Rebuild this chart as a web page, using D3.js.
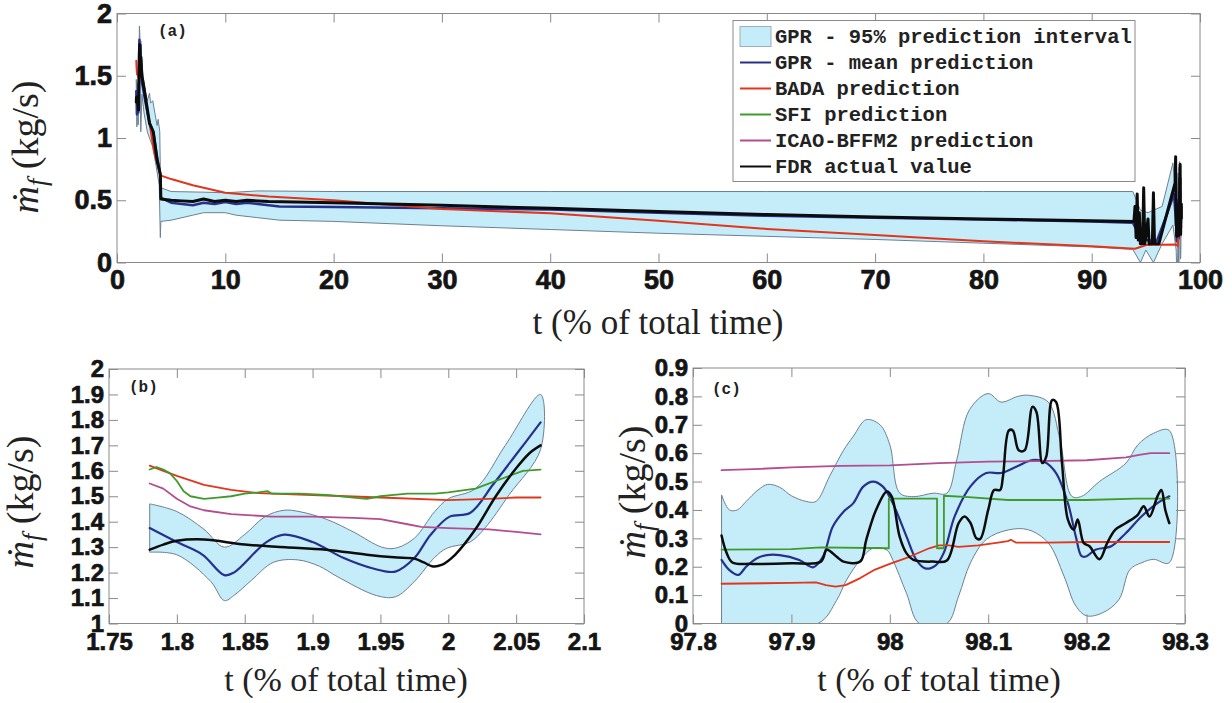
<!DOCTYPE html>
<html><head><meta charset="utf-8">
<script src="https://cdn.jsdelivr.net/npm/d3@7"></script>
<style>body{margin:0;background:#fff}svg{display:block}</style>
</head><body><svg id="chart" width="1232" height="703"></svg>
<script>
// ---------- tick values ----------
const aXTicks = [0,10,20,30,40,50,60,70,80,90,100];
const aYTicks = [0,0.5,1,1.5,2];
const bXTicks = [1.75,1.8,1.85,1.9,1.95,2,2.05,2.1];
const bYTicks = [1,1.1,1.2,1.3,1.4,1.5,1.6,1.7,1.8,1.9,2];
const cXTicks = [97.8,97.9,98,98.1,98.2,98.3];
const cYTicks = [0,0.1,0.2,0.3,0.4,0.5,0.6,0.7,0.8,0.9];
const legendLabels = ["GPR - 95% prediction interval","GPR - mean prediction","BADA prediction","SFI prediction","ICAO-BFFM2 prediction","FDR actual value"];

// ---------- panel (b): t in [1.78, 2.07] ----------
const bBandUpper = [[1.78,1.47],[1.80,1.44],[1.82,1.37],[1.835,1.30],[1.85,1.35],[1.865,1.42],[1.879,1.445],[1.89,1.44],[1.91,1.41],[1.93,1.36],[1.951,1.30],[1.961,1.296],[1.975,1.335],[1.99,1.44],[2.0,1.49],[2.02,1.53],[2.042,1.70],[2.068,1.90]];
const bBandLower = [[1.78,1.28],[1.80,1.27],[1.825,1.165],[1.835,1.09],[1.842,1.11],[1.855,1.17],[1.871,1.24],[1.889,1.25],[1.905,1.225],[1.918,1.185],[1.947,1.11],[1.961,1.105],[1.975,1.165],[1.99,1.26],[1.999,1.296],[2.016,1.32],[2.027,1.375],[2.045,1.507],[2.068,1.684]];
const bMean = [[1.78,1.375],[1.80,1.32],[1.819,1.27],[1.835,1.19],[1.842,1.20],[1.866,1.32],[1.879,1.349],[1.9,1.32],[1.923,1.257],[1.944,1.217],[1.961,1.204],[1.975,1.257],[1.987,1.349],[2.001,1.42],[2.016,1.434],[2.033,1.546],[2.05,1.664],[2.068,1.79]];
const bBADA = [[1.78,1.62],[1.79,1.60],[1.80,1.58],[1.82,1.545],[1.84,1.525],[1.86,1.512],[1.9,1.505],[1.95,1.495],[2.0,1.485],[2.03,1.49],[2.05,1.495],[2.068,1.495]];
const bSFI = [[1.78,1.605],[1.785,1.615],[1.79,1.605],[1.795,1.59],[1.80,1.56],[1.805,1.52],[1.81,1.50],[1.82,1.49],[1.83,1.495],[1.84,1.50],[1.85,1.51],[1.86,1.515],[1.867,1.52],[1.87,1.51],[1.89,1.51],[1.91,1.505],[1.93,1.495],[1.94,1.49],[1.95,1.50],[1.96,1.505],[1.97,1.51],[1.99,1.51],[2.0,1.515],[2.02,1.53],[2.04,1.57],[2.055,1.60],[2.068,1.605]];
const bICAO = [[1.78,1.55],[1.79,1.53],[1.80,1.49],[1.81,1.46],[1.82,1.445],[1.84,1.43],[1.87,1.42],[1.9,1.42],[1.93,1.415],[1.95,1.41],[1.97,1.39],[1.98,1.38],[2.0,1.375],[2.03,1.37],[2.05,1.36],[2.068,1.35]];
const bFDR = [[1.78,1.29],[1.79,1.31],[1.80,1.325],[1.82,1.33],[1.85,1.31],[1.88,1.30],[1.91,1.29],[1.94,1.27],[1.96,1.26],[1.975,1.255],[1.982,1.24],[1.988,1.225],[1.995,1.23],[2.005,1.27],[2.02,1.37],[2.035,1.50],[2.05,1.61],[2.06,1.67],[2.068,1.70]];

// ---------- panel (a) middle part: t in (2.07, 97.83) ----------
const aBandUpper = [[2.1,1.85],[2.15,1.70],[2.2,1.78],[2.3,1.6],[2.45,1.45],[2.6,1.38],[2.8,1.30],[3.0,1.36],[3.1,1.28],[3.3,1.30],[3.5,1.20],[3.7,1.10],[3.8,1.15],[3.95,1.05],[4.0,0.75],[4.05,0.60],[5,0.57],[8,0.565],[10,0.56],[13,0.575],[20,0.57],[40,0.57],[60,0.57],[80,0.57],[93.8,0.57],[94.5,0.42],[95.2,0.40],[95.7,0.42],[96.5,0.45],[97.5,0.80],[97.8,0.50]];
const aBandLower = [[2.1,1.45],[2.2,1.05],[2.3,1.35],[2.5,1.2],[2.8,1.05],[3.0,1.0],[3.3,0.93],[3.6,0.78],[3.9,0.62],[4.0,0.20],[4.05,0.33],[5,0.34],[6,0.36],[7,0.38],[8,0.40],[10,0.40],[11,0.38],[13,0.36],[15,0.34],[20,0.33],[30,0.295],[40,0.265],[50,0.235],[60,0.21],[70,0.185],[80,0.155],[90,0.125],[93.8,0.105],[94.5,0.0],[95.0,0.10],[95.7,0.0],[96.5,0.15],[97.5,0.3],[97.8,0.1]];
const aMean = [[2.1,1.6],[2.15,1.75],[2.3,1.45],[2.6,1.3],[3.0,1.12],[3.35,1.05],[3.7,0.85],[4.0,0.70],[4.05,0.52],[5,0.48],[6,0.47],[7,0.46],[8,0.48],[9,0.47],[10,0.485],[11,0.47],[12,0.48],[13,0.47],[15,0.45],[20,0.445],[30,0.435],[40,0.425],[50,0.40],[60,0.375],[70,0.36],[80,0.345],[90,0.33],[93.8,0.32],[94.5,0.2],[95,0.18],[96,0.17],[97,0.4],[97.6,0.55],[97.8,0.3]];
const aBADA = [[2.4,1.47],[3.0,1.12],[3.4,0.90],[4.0,0.70],[5,0.67],[7,0.62],[10,0.56],[14,0.53],[20,0.50],[30,0.43],[40,0.395],[50,0.335],[60,0.27],[70,0.22],[80,0.17],[90,0.13],[94,0.11],[94.7,0.13],[95,0.14],[97.8,0.145]];
const aFDR = [[2.1,1.75],[2.15,1.55],[2.2,1.65],[2.3,1.50],[2.5,1.40],[3.0,1.12],[3.35,1.05],[3.7,0.82],[4.0,0.71],[4.05,0.51],[5,0.50],[6,0.495],[7,0.49],[8,0.51],[9,0.49],[10,0.50],[11,0.49],[12,0.50],[14,0.49],[20,0.48],[30,0.46],[40,0.435],[50,0.41],[60,0.385],[70,0.365],[80,0.35],[90,0.335],[93.9,0.33],[94.0,0.45],[94.1,0.2],[94.2,0.55],[94.3,0.18],[94.4,0.4],[94.5,0.15],[94.7,0.15],[94.8,0.6],[94.9,0.15],[95.2,0.35],[95.3,0.15],[95.6,0.15],[95.7,0.56],[95.8,0.15],[96.2,0.15],[97.7,0.64],[97.75,0.85],[97.8,0.3]];

// ---------- panel (c): t in [97.83, 98.28] ----------
const cBandUpper = [[97.829,0.453],[97.837,0.40],[97.845,0.40],[97.854,0.43],[97.866,0.47],[97.876,0.49],[97.888,0.48],[97.9,0.45],[97.915,0.43],[97.925,0.43],[97.939,0.52],[97.953,0.61],[97.963,0.66],[97.976,0.718],[97.99,0.70],[98.0,0.63],[98.01,0.46],[98.024,0.447],[98.044,0.459],[98.058,0.459],[98.068,0.576],[98.081,0.753],[98.1,0.81],[98.113,0.78],[98.13,0.80],[98.141,0.804],[98.161,0.78],[98.173,0.646],[98.185,0.448],[98.195,0.448],[98.213,0.50],[98.24,0.565],[98.252,0.629],[98.268,0.67],[98.284,0.68]];
const cBandLower = [[97.829,0],[97.927,0],[97.946,0.082],[97.956,0.153],[97.97,0.224],[97.983,0.265],[97.997,0.259],[98.003,0.224],[98.017,0.106],[98.03,0],[98.058,0],[98.07,0.097],[98.082,0.214],[98.098,0.296],[98.121,0.33],[98.141,0.33],[98.161,0.284],[98.177,0.167],[98.189,0.062],[98.2,0.027],[98.217,0.039],[98.233,0.085],[98.244,0.19],[98.256,0.214],[98.268,0.226],[98.284,0.214]];
const cMean = [[97.829,0.224],[97.837,0.188],[97.846,0.171],[97.854,0.2],[97.865,0.23],[97.875,0.241],[97.888,0.241],[97.908,0.224],[97.922,0.198],[97.932,0.235],[97.942,0.341],[97.953,0.394],[97.963,0.424],[97.973,0.482],[97.983,0.5],[97.993,0.482],[98.003,0.424],[98.017,0.306],[98.027,0.224],[98.036,0.194],[98.047,0.206],[98.055,0.25],[98.066,0.378],[98.082,0.483],[98.098,0.53],[98.113,0.53],[98.129,0.553],[98.145,0.576],[98.157,0.57],[98.169,0.53],[98.181,0.424],[98.189,0.307],[98.195,0.237],[98.2,0.237],[98.209,0.26],[98.225,0.272],[98.24,0.319],[98.256,0.378],[98.272,0.424],[98.284,0.448]];
const cBADA = [[97.829,0.14],[97.9,0.143],[97.925,0.145],[97.935,0.135],[97.945,0.13],[97.955,0.135],[97.97,0.16],[97.985,0.19],[98.0,0.21],[98.02,0.235],[98.04,0.265],[98.05,0.275],[98.06,0.275],[98.07,0.27],[98.09,0.275],[98.11,0.285],[98.12,0.29],[98.123,0.295],[98.128,0.285],[98.16,0.285],[98.2,0.287],[98.284,0.287]];
const cSFI = [[97.829,0.26],[97.9,0.262],[97.93,0.268],[97.999,0.265],[97.999,0.44],[98.048,0.44],[98.048,0.265],[98.055,0.265],[98.055,0.45],[98.08,0.445],[98.12,0.435],[98.2,0.435],[98.25,0.44],[98.284,0.44]];
const cICAO = [[97.829,0.54],[97.87,0.545],[97.9,0.55],[97.95,0.555],[98.0,0.557],[98.05,0.565],[98.1,0.57],[98.15,0.572],[98.2,0.575],[98.24,0.585],[98.255,0.595],[98.265,0.6],[98.284,0.6]];
const cFDR = [[97.829,0.31],[97.834,0.25],[97.84,0.215],[97.86,0.21],[97.9,0.212],[97.93,0.218],[97.936,0.26],[97.946,0.235],[97.953,0.218],[97.97,0.218],[97.976,0.294],[97.986,0.40],[97.997,0.465],[98.002,0.447],[98.01,0.306],[98.017,0.247],[98.024,0.224],[98.044,0.218],[98.058,0.222],[98.07,0.354],[98.076,0.377],[98.082,0.354],[98.088,0.30],[98.092,0.298],[98.1,0.40],[98.106,0.47],[98.112,0.47],[98.115,0.518],[98.121,0.68],[98.125,0.68],[98.131,0.61],[98.137,0.61],[98.145,0.763],[98.149,0.745],[98.155,0.565],[98.159,0.588],[98.165,0.787],[98.169,0.78],[98.175,0.565],[98.181,0.366],[98.187,0.33],[98.191,0.366],[98.197,0.284],[98.203,0.272],[98.213,0.226],[98.221,0.284],[98.229,0.33],[98.24,0.354],[98.252,0.383],[98.258,0.413],[98.264,0.377],[98.272,0.448],[98.276,0.47],[98.28,0.40],[98.284,0.354]];

// ---------- styles ----------
const COL = {fill:"#c4ecf9", edge:"#6d7f92", mean:"#27308c", bada:"#e2361c", sfi:"#3f9a2c", icao:"#b44d8e", fdr:"#0c0c0c", axis:"#8a8a8a"};
const TICKFONT = "'Liberation Sans', Arial, Helvetica, sans-serif";
const SERIF = "'Liberation Serif', 'Times New Roman', 'DejaVu Serif', serif";
const MONO = "'Liberation Mono', 'Courier New', monospace";

const svg = d3.select("#chart");
svg.append("rect").attr("width",1232).attr("height",703).attr("fill","#fff");

function panel(o){
  const x = d3.scaleLinear().domain(o.xd).range([o.l,o.r]);
  const y = d3.scaleLinear().domain(o.yd).range([o.b,o.t]);
  const g = svg.append("g");
  const cid = "clip"+o.id;
  g.append("clipPath").attr("id",cid).append("rect")
    .attr("x",o.l).attr("y",o.t).attr("width",o.r-o.l).attr("height",o.b-o.t);
  const plot = g.append("g").attr("clip-path",`url(#${cid})`);
  const smoothC = o.smooth ? d3.curveCatmullRom.alpha(0.5) : d3.curveLinear;
  const lineS = d3.line().x(d=>x(d[0])).y(d=>y(d[1])).curve(smoothC);
  const lineL = d3.line().x(d=>x(d[0])).y(d=>y(d[1])).curve(d3.curveLinear);
  // band polygon: upper forward then lower reversed
  const poly = o.upper.concat(o.lower.slice().reverse());
  plot.append("path").attr("d", lineS(poly)+"Z")
    .attr("fill",COL.fill).attr("stroke",COL.edge).attr("stroke-width",1);
  const series = [
    [o.mean, COL.mean, o.wMean, lineS],
    [o.bada, COL.bada, o.wOther, lineL],
    [o.sfi, COL.sfi, o.wOther, lineL],
    [o.icao, COL.icao, o.wOther, lineL],
    [o.fdr, COL.fdr, o.wFdr, lineS]
  ];
  series.forEach(([d,c,w,ln])=>{
    if(!d) return;
    plot.append("path").attr("d",ln(d)).attr("fill","none")
      .attr("stroke",c).attr("stroke-width",w).attr("stroke-linejoin","round").attr("stroke-linecap","round");
  });
  // axes (ticks inside on all four sides)
  const fmt = d3.format("~g");
  const style = sel => {
    sel.select(".domain").remove();
    sel.selectAll(".tick line").attr("stroke",COL.axis).attr("stroke-width",1);
    sel.selectAll("text").attr("font-family",TICKFONT).attr("font-weight","bold")
      .attr("font-size",o.fs).attr("fill","#141414")
      .attr("stroke","#141414").attr("stroke-width",0.7);
  };
  g.append("g").attr("transform",`translate(0,${o.b})`)
    .call(d3.axisBottom(x).tickValues(o.xt).tickFormat(fmt).tickSizeInner(-9).tickSizeOuter(0).tickPadding(o.xpad))
    .call(style);
  g.append("g").attr("transform",`translate(${o.l},0)`)
    .call(d3.axisLeft(y).tickValues(o.yt).tickFormat(fmt).tickSizeInner(-9).tickSizeOuter(0).tickPadding(o.ypad))
    .call(style);
  g.append("g").attr("transform",`translate(0,${o.t})`)
    .call(d3.axisTop(x).tickValues(o.xt).tickFormat("").tickSizeInner(-9).tickSizeOuter(0))
    .call(style);
  g.append("g").attr("transform",`translate(${o.r},0)`)
    .call(d3.axisRight(y).tickValues(o.yt).tickFormat("").tickSizeInner(-9).tickSizeOuter(0))
    .call(style);
  g.append("rect").attr("x",o.l).attr("y",o.t).attr("width",o.r-o.l).attr("height",o.b-o.t)
    .attr("fill","none").attr("stroke",COL.axis).attr("stroke-width",1);
  // panel letter
  g.append("text").attr("x",o.lx).attr("y",o.ly).text(o.letter)
    .attr("font-family",MONO).attr("font-weight","bold").attr("font-size",16).attr("fill","#222");
  // x title
  g.append("text").attr("x",o.xtx).attr("y",o.xty).attr("text-anchor","middle")
    .attr("font-family",SERIF).attr("font-size",o.xfs).attr("fill","#222")
    .text("t (% of total time)");
  // y title (rotated)
  const yt = g.append("text").attr("transform",`translate(${o.ytx},${o.yty}) rotate(-90)`)
    .attr("text-anchor","middle").attr("font-family",SERIF).attr("font-size",o.yfs).attr("fill","#222");
  yt.append("tspan").attr("font-style","italic").text("\u1E41");
  yt.append("tspan").attr("font-style","italic").attr("font-size",o.yfs*0.7).attr("dy",o.yfs*0.22).text("f");
  yt.append("tspan").attr("dy",-o.yfs*0.22).text(" (kg/s)");
  return {x,y,g};
}

// panel (a): merge zoomed portions with middle portion
const merge = (...arrs)=>arrs.flat();
const A = panel({id:"a", xd:[0,100], yd:[0,2], l:117, r:1200, t:13.5, b:262.5,
  xt:aXTicks, yt:aYTicks, fs:27, xpad:7, ypad:5, smooth:false,
  upper:merge(bBandUpper,aBandUpper,cBandUpper), lower:merge(bBandLower,aBandLower,cBandLower),
  mean:merge(bMean,aMean,cMean), bada:merge(bBADA,aBADA,cBADA), sfi:null, icao:null,
  fdr:merge(bFDR,aFDR,cFDR), wMean:2.5, wOther:2, wFdr:3,
  letter:"(a)", lx:158, ly:36, xtx:658, xty:334, ytx:38, yty:147, xfs:35, yfs:38});

const B = panel({id:"b", xd:[1.75,2.1], yd:[1,2], l:109, r:584, t:369, b:623.5,
  xt:bXTicks, yt:bYTicks, fs:24, xpad:9, ypad:5, smooth:true,
  upper:bBandUpper, lower:bBandLower, mean:bMean, bada:bBADA, sfi:bSFI, icao:bICAO, fdr:bFDR,
  wMean:2.2, wOther:1.8, wFdr:2.5,
  letter:"(b)", lx:129, ly:392, xtx:346, xty:691, ytx:33, yty:502, xfs:34, yfs:38});

const C = panel({id:"c", xd:[97.8,98.3], yd:[0,0.9], l:693, r:1185, t:368, b:623.5,
  xt:cXTicks, yt:cYTicks, fs:24, xpad:9, ypad:5, smooth:true,
  upper:cBandUpper, lower:cBandLower, mean:cMean, bada:cBADA, sfi:cSFI, icao:cICAO, fdr:cFDR,
  wMean:2.2, wOther:1.8, wFdr:2.5,
  letter:"(c)", lx:712, ly:394, xtx:939, xty:691, ytx:645, yty:492, xfs:34, yfs:38});

// legend in panel (a)
const lg = svg.append("g");
lg.append("rect").attr("x",733).attr("y",20.5).attr("width",402).attr("height",161)
  .attr("fill","#fff").attr("stroke","#8a8a8a").attr("stroke-width",1);
const legCols = [null, COL.mean, COL.bada, COL.sfi, COL.icao, COL.fdr];
legendLabels.forEach((lab,i)=>{
  const cy = 36.5 + i*26;
  if(i===0){
    lg.append("rect").attr("x",740).attr("y",cy-10).attr("width",31).attr("height",20)
      .attr("fill",COL.fill).attr("stroke","#9ab0c0").attr("stroke-width",1);
  } else {
    lg.append("line").attr("x1",740).attr("x2",771).attr("y1",cy).attr("y2",cy)
      .attr("stroke",legCols[i]).attr("stroke-width",2);
  }
  lg.append("text").attr("x",775).attr("y",cy+6).text(lab)
    .attr("font-family",MONO).attr("font-weight","bold").attr("font-size",20.5).attr("fill","#222");
});
</script></body></html>
